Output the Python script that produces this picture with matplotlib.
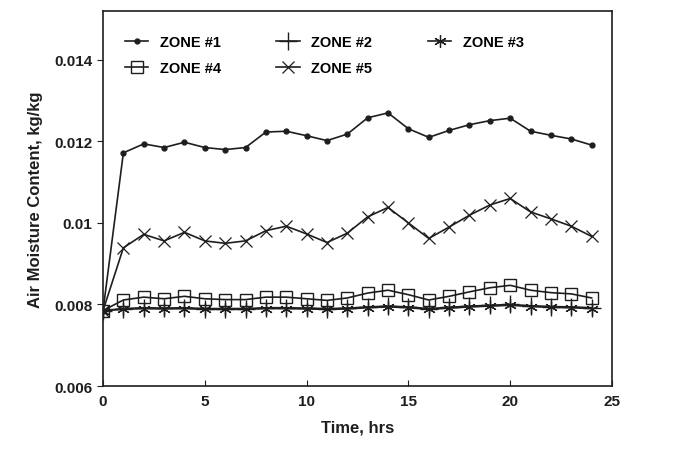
import matplotlib
matplotlib.use("Agg")
import matplotlib.pyplot as plt

hours = list(range(25))

zone1 = [0.00785, 0.01172, 0.01194, 0.01185, 0.01198, 0.01185, 0.01180, 0.01185,
         0.01223, 0.01225, 0.01214, 0.01202, 0.01218, 0.01258, 0.01270, 0.01231,
         0.01210, 0.01227, 0.01241, 0.01251, 0.01257, 0.01225, 0.01215, 0.01206,
         0.01191]
zone2 = [0.00785, 0.00790, 0.00792, 0.00791, 0.00792, 0.00790, 0.00790, 0.00790,
         0.00792, 0.00792, 0.00791, 0.00790, 0.00791, 0.00794, 0.00796, 0.00794,
         0.00790, 0.00793, 0.00796, 0.00798, 0.00800, 0.00797, 0.00795, 0.00794,
         0.00792]
zone3 = [0.00785, 0.00788, 0.00790, 0.00789, 0.00790, 0.00788, 0.00788, 0.00788,
         0.00790, 0.00790, 0.00789, 0.00788, 0.00789, 0.00792, 0.00794, 0.00792,
         0.00788, 0.00791, 0.00794, 0.00796, 0.00798, 0.00795, 0.00793, 0.00792,
         0.00790]
zone4 = [0.00785, 0.00811, 0.00818, 0.00814, 0.00820, 0.00814, 0.00812, 0.00812,
         0.00818, 0.00818, 0.00814, 0.00810, 0.00816, 0.00828, 0.00835, 0.00824,
         0.00811, 0.00820, 0.00831, 0.00841, 0.00847, 0.00835, 0.00829, 0.00826,
         0.00816]
zone5 = [0.00785, 0.00939, 0.00972, 0.00956, 0.00977, 0.00956, 0.00950, 0.00956,
         0.00981, 0.00992, 0.00973, 0.00952, 0.00975, 0.01015, 0.01038, 0.01000,
         0.00962, 0.00990, 0.01019, 0.01044, 0.01060, 0.01027, 0.01010, 0.00992,
         0.00967]

y_ticks = [0.006, 0.008, 0.01, 0.012, 0.014]
y_labels = ["0.006", "0.008", "0.01", "0.012", "0.014"]
x_ticks = [0, 5, 10, 15, 20, 25]

plt.rcParams['font.family'] = ['Liberation Sans', 'DejaVu Sans']
plt.rcParams['font.weight'] = 'bold'
ink = "#1e1e1e"

fig = plt.figure(figsize=(6.8, 4.52), dpi=100)
ax = fig.add_axes([0.1515, 0.1438, 0.7485, 0.8297])

l1, = ax.plot(hours, zone1, color=ink, lw=1.2, marker='o', ms=3.5, label="ZONE #1")
l2, = ax.plot(hours, zone2, color=ink, lw=1.2, marker='+', ms=13, mew=1.0, label="ZONE #2")
l3, = ax.plot(hours, zone3, color=ink, lw=1.2, marker=(6, 2, 0), ms=9, mew=0.9, label="ZONE #3")
l4, = ax.plot(hours, zone4, color=ink, lw=1.2, marker='s', ms=9, mfc='none', mew=1.0, label="ZONE #4")
l5, = ax.plot(hours, zone5, color=ink, lw=1.2, marker='x', ms=9, mew=0.9, label="ZONE #5")

ax.set_xlim(0, 25)
ax.set_ylim(0.006, 0.0152)
ax.set_xticks(x_ticks)
ax.set_yticks(y_ticks)
ax.set_yticklabels(y_labels)
ax.tick_params(axis='x', direction='in', length=4, labelsize=11, colors=ink, pad=6)
ax.tick_params(axis='y', direction='out', length=4, labelsize=11, colors=ink)
for s in ax.spines.values():
    s.set_color(ink)
    s.set_linewidth(1.2)

ax.set_xlabel("Time, hrs", fontsize=12, fontweight='bold', color=ink, labelpad=8)
ax.set_ylabel("Air Moisture Content, kg/kg", fontsize=12, fontweight='bold',
              color=ink, labelpad=8)

# legend fills column by column, so order it to read across rows
handles = [l1, l4, l2, l5, l3]
ax.legend(handles, [h.get_label() for h in handles], ncol=3, frameon=False,
          loc='upper left', bbox_to_anchor=(0.043, 0.935), borderaxespad=0,
          borderpad=0, fontsize=10.5, handlelength=1.6, columnspacing=3.8,
          labelspacing=0.8, handletextpad=0.8)

fig.savefig("out.png", dpi=100)
